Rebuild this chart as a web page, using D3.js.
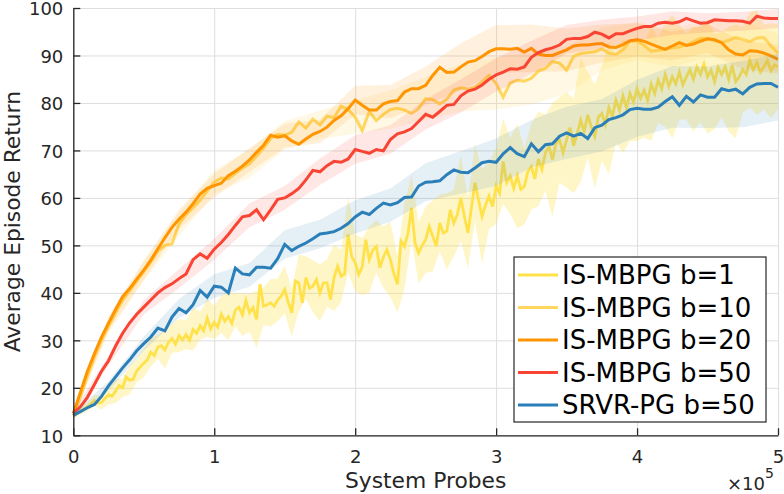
<!DOCTYPE html>
<html>
<head>
<meta charset="utf-8">
<script src="https://cdn.jsdelivr.net/npm/d3@7"></script>
<style>
  body { margin: 0; background: #fff; }
  svg { display: block; font-family: "DejaVu Sans", sans-serif; }
</style>
</head>
<body>
<svg id="chart" width="784" height="494"></svg>
<script>
// x is in units of 1e5 system probes, 0..5
const xTicks = [0, 1, 2, 3, 4, 5]
const yTicks = [10, 20, 30, 40, 50, 60, 70, 80, 90, 100]
const names = ["IS-MBPG b=1", "IS-MBPG b=10", "IS-MBPG b=20", "IS-MBPG b=50", "SRVR-PG b=50"]
const colors = ["#ffe14a", "#ffd65e", "#ff9500", "#fa4433", "#2b7fb8"]

// IS-MBPG b=1, one value every 0.025e5 probes
const b1 = [14.0,14.6,15.2,15.5,16.0,16.6,17.3,16.8,16.9,17.8,18.5,18.2,19.3,20.5,20.0,22.3,21.6,21.8,23.6,24.4,
  25.2,25.9,27.5,26.8,28.6,28.9,28.0,29.6,30.4,29.2,31.0,30.1,31.2,30.0,32.3,31.5,33.1,32.0,34.7,32.4,
  33.8,32.8,35.5,34.0,35.0,33.6,36.4,37.0,35.4,38.4,35.8,36.9,34.4,41.8,37.2,37.5,37.9,37.2,38.5,39.3,
  40.7,38.0,35.8,42.5,42.1,37.9,43.2,41.0,41.4,42.8,40.0,42.1,42.1,38.6,43.2,45.6,43.5,44.0,52.3,47.7,
  46.3,43.9,45.5,51.2,47.0,49.0,49.8,45.3,47.5,49.1,47.0,44.0,41.8,50.9,49.8,52.6,57.9,50.5,48.4,50.0,
  51.2,54.0,52.0,49.8,54.7,52.6,53.0,57.5,54.7,56.5,60.0,56.1,52.6,58.0,63.2,59.6,56.1,58.5,60.4,58.2,
  62.5,61.0,67.7,63.2,64.6,62.0,64.6,61.8,62.4,65.5,66.6,64.0,68.2,66.0,69.5,70.8,68.0,71.5,72.2,69.5,
  72.2,74.8,71.0,73.5,76.4,74.0,77.5,75.0,73.0,77.0,77.8,75.5,79.0,77.2,80.6,78.5,81.5,79.0,82.0,80.2,
  83.0,81.0,82.7,80.5,84.0,82.0,84.8,83.0,86.0,83.5,85.5,84.0,86.5,83.8,85.5,87.0,85.0,87.6,86.0,88.2,
  85.5,86.9,84.5,87.5,86.0,87.6,85.0,88.0,84.5,85.5,87.0,86.0,89.0,87.0,88.5,86.5,87.6,89.0,86.8,88.0,87.6]

// the other runs, one value every 0.05e5 probes
const b10 = [14.2,18.0,22.5,26.5,30.0,33.0,35.8,38.5,40.5,42.5,44.5,46.5,48.8,50.0,50.3,54.5,56.5,58.0,59.5,61.5,
  63.3,64.2,64.0,65.2,66.3,67.2,68.8,70.5,72.5,73.4,73.2,73.8,76.0,74.7,76.6,75.4,77.2,76.9,79.3,78.6,
  77.0,74.2,78.2,76.3,77.6,78.6,78.9,78.5,77.8,78.8,80.9,80.7,79.8,80.8,82.7,83.2,82.9,83.3,84.5,85.8,
  84.1,81.2,84.2,84.8,84.6,85.2,86.7,87.3,88.7,88.4,86.9,89.8,90.4,90.6,90.8,91.4,90.5,90.2,91.2,93.0,
  93.0,92.1,90.9,91.1,91.3,91.6,91.8,92.2,92.9,93.6,93.5,93.2,92.7,93.2,93.8,93.4,92.9,93.7,93.8,92.0,90.5]

const b20 = [14.6,19.0,23.5,27.2,30.7,33.6,36.5,39.2,40.9,42.9,44.8,46.9,49.3,51.6,53.8,55.5,57.0,58.8,60.8,62.0,
  62.6,63.1,64.7,65.6,66.7,68.0,69.6,71.1,73.2,72.8,73.1,72.0,71.3,72.4,73.4,74.0,74.9,76.3,77.3,78.8,
  80.6,79.5,78.5,78.5,79.8,80.3,80.5,82.3,83.0,83.0,83.7,85.8,87.5,86.4,86.5,87.6,88.6,88.9,89.8,90.8,
  91.4,91.4,91.3,91.5,90.7,91.5,90.3,90.0,90.0,90.6,91.2,92.0,92.2,92.2,92.4,92.5,91.8,91.7,92.3,93.1,
  93.3,93.0,92.4,91.8,91.3,92.0,92.7,92.1,92.4,93.0,93.5,93.3,92.7,91.2,90.3,90.1,91.0,90.9,90.5,89.9,89.2]

const b50 = [14.6,16.0,18.0,20.7,23.5,25.7,28.8,31.5,33.7,35.5,37.0,38.5,40.0,41.1,41.9,43.0,44.0,47.0,48.2,47.3,
  49.2,50.6,52.3,54.2,56.0,56.3,57.5,55.4,57.5,59.7,60.0,60.9,62.0,63.8,65.8,65.5,66.8,67.7,67.5,68.2,
  70.2,69.8,69.4,70.2,69.9,72.3,73.5,73.9,74.6,76.1,77.6,77.0,78.2,79.5,79.7,81.5,82.5,82.9,83.8,85.0,
  85.9,86.5,87.2,87.1,87.6,89.6,90.6,91.2,91.6,92.2,93.4,93.6,93.6,94.0,94.9,94.5,93.7,94.6,94.6,95.2,
  95.7,96.1,96.1,96.8,97.0,96.8,97.1,97.8,97.3,96.8,96.9,97.5,97.4,97.3,97.3,97.2,96.8,98.3,97.9,97.8,97.8]

const srvr = [14.2,15.0,15.8,16.5,18.2,20.4,22.3,24.2,25.9,27.8,29.3,30.7,32.6,32.0,34.9,36.7,35.8,37.5,40.5,39.1,
  41.4,41.2,40.0,45.2,44.0,43.8,45.4,45.4,45.2,47.2,50.2,48.9,49.8,50.5,51.4,52.4,52.6,52.9,53.6,54.6,
  56.0,57.0,56.5,57.8,58.9,58.5,59.0,60.1,60.2,62.5,63.3,63.4,63.6,64.9,65.9,65.4,65.3,66.3,67.4,67.7,
  67.5,69.3,70.6,69.3,68.7,71.4,69.7,71.2,71.4,73.0,73.7,73.0,73.6,72.5,74.8,75.3,76.5,76.9,77.5,78.6,
  78.9,78.7,78.7,79.1,80.3,81.3,79.5,81.4,80.2,81.7,81.2,81.2,83.0,82.6,82.9,81.9,83.3,84.0,84.1,84.1,83.3]

// half-width of the shaded spread; b=1 every 0.05e5, the others every 0.25e5
const b1Spread = [0.5,0.8,1,1.2,1.5,2,2.5,2,3,2.5,3,
  3,2.5,4,3,3.5,3,4.5,3,4,3.5,
  4,5,3.5,4.5,4,6,4,5,4.5,5,
  5,6,4.5,5.5,6,5,7,5.5,8,6,
  6,7,5.5,6.5,8,6,9,7,6.5,7,
  7.5,6,8,7,9,7.5,8,10,7,8,
  9,8,11,8,9,10,8,12,9,10,
  10,13,9,11,10,14,9,12,10,11,
  10,12,9,11,13,10,9,11,10,12,
  10,9,11,12,9,10,11,9,10,9]
const b10Spread = [0.5,1.5,2,2.5,2.5,3,3,3,3.5,4,4.5,5,5.5,5.5,5,4.5,4,4,4,4,4]
const b20Spread = [0.5,1.5,2,2,2.5,2.5,2.5,2.5,3,3.5,4,5,5,5,4.5,4,3.5,3,3,3,3]
const b50Spread = [0.5,1,1.5,2,2.2,2.5,2.5,2.8,3,3,3.2,3.5,3.5,3.5,3,3,2.5,2.5,2,2,2]
const srvrSpread = [0.5,1,1.5,2,2.5,2.5,3,3,3.5,3.5,4,4.5,5,5,5.5,5.5,6,6.5,6.5,7,7]

const series = [
  {mean: b1, spread: b1Spread, alpha: 0.3, width: 2.8},
  {mean: b10, spread: b10Spread, alpha: 0.16, width: 3},
  {mean: b20, spread: b20Spread, alpha: 0.13, width: 3},
  {mean: b50, spread: b50Spread, alpha: 0.13, width: 3},
  {mean: srvr, spread: srvrSpread, alpha: 0.12, width: 3}
]

const W = 784, H = 494
const m = {top: 8, right: 6, bottom: 58.7, left: 73.3}
const w = W - m.left - m.right, h = H - m.top - m.bottom

const svg = d3.select("#chart")
const g = svg.append("g").attr("transform", `translate(${m.left},${m.top})`)

const x = d3.scaleLinear().domain([0, 5]).range([0, w])
const y = d3.scaleLinear().domain([10, 100]).range([h, 0])

// grid
g.append("g")
  .attr("transform", `translate(0,${h})`)
  .call(d3.axisBottom(x).tickValues(xTicks).tickSize(-h).tickFormat(""))
  .call(a => a.select(".domain").remove())
  .selectAll("line").attr("stroke", "#dedede").attr("stroke-width", 1)
g.append("g")
  .call(d3.axisLeft(y).tickValues(yTicks).tickSize(-w).tickFormat(""))
  .call(a => a.select(".domain").remove())
  .selectAll("line").attr("stroke", "#dedede").attr("stroke-width", 1)

const plot = g.append("g")

series.forEach((s, si) => {
  const n = s.mean.length, k = s.spread.length
  const pts = s.mean.map((v, i) => ({t: i * 5 / (n - 1), v: v}))
  const band = s.spread.map((d, j) => {
    const c = s.mean[Math.round(j * (n - 1) / (k - 1))]
    return {t: j * 5 / (k - 1), lo: c - d, hi: c + d}
  })

  plot.append("path")
    .datum(band)
    .attr("fill", colors[si])
    .attr("fill-opacity", s.alpha)
    .attr("d", d3.area().x(d => x(d.t)).y0(d => y(Math.max(10, d.lo))).y1(d => y(Math.min(100, d.hi))))

  plot.append("path")
    .datum(pts)
    .attr("fill", "none")
    .attr("stroke", colors[si])
    .attr("stroke-width", s.width)
    .attr("stroke-linejoin", "miter")
    .attr("d", d3.line().x(d => x(d.t)).y(d => y(d.v)))
})

// axes, ticks pointing inward like matlab
const xAxis = g.append("g")
  .attr("transform", `translate(0,${h})`)
  .call(d3.axisBottom(x).tickValues(xTicks).tickFormat(d3.format("d"))
    .tickSizeInner(-7).tickSizeOuter(0).tickPadding(12))
const yAxis = g.append("g")
  .call(d3.axisLeft(y).tickValues(yTicks).tickFormat(d3.format("d"))
    .tickSizeInner(-7).tickSizeOuter(0).tickPadding(10))

;[xAxis, yAxis].forEach(a => {
  a.select(".domain").attr("stroke", "#262626").attr("stroke-width", 1.3)
  a.selectAll(".tick line").attr("stroke", "#262626").attr("stroke-width", 1.3)
  a.selectAll(".tick text").attr("fill", "#262626").attr("font-size", 18)
    .attr("font-family", "DejaVu Sans")
})
xAxis.selectAll(".tick text").attr("dy", "0.9em")
yAxis.selectAll(".tick text").attr("dy", "0.38em")

// labels
svg.append("text")
  .attr("x", m.left + w / 2).attr("y", 488)
  .attr("text-anchor", "middle").attr("font-size", 21.8).attr("fill", "#262626")
  .text("System Probes")
svg.append("text")
  .attr("transform", `translate(20,${m.top + h / 2}) rotate(-90)`)
  .attr("text-anchor", "middle").attr("font-size", 21.8).attr("fill", "#262626")
  .text("Average Episode Return")

const exp = svg.append("text")
  .attr("x", 727).attr("y", 490).attr("font-size", 18).attr("fill", "#262626")
exp.append("tspan").text("×10")
exp.append("tspan").attr("dy", -12).attr("font-size", 14).text("5")

// legend
const lg = svg.append("g").attr("transform", "translate(514,257)")
lg.append("rect").attr("width", 252).attr("height", 165)
  .attr("fill", "#fff").attr("stroke", "#262626").attr("stroke-width", 1.2)
names.forEach((nm, i) => {
  const yy = 18 + i * 32.5
  lg.append("line").attr("x1", 4).attr("x2", 44).attr("y1", yy).attr("y2", yy)
    .attr("stroke", colors[i]).attr("stroke-width", 3)
  lg.append("text").attr("x", 48).attr("y", yy).attr("dy", "0.35em")
    .attr("font-size", 26).attr("fill", "#000").text(nm)
})
</script>
</body>
</html>
